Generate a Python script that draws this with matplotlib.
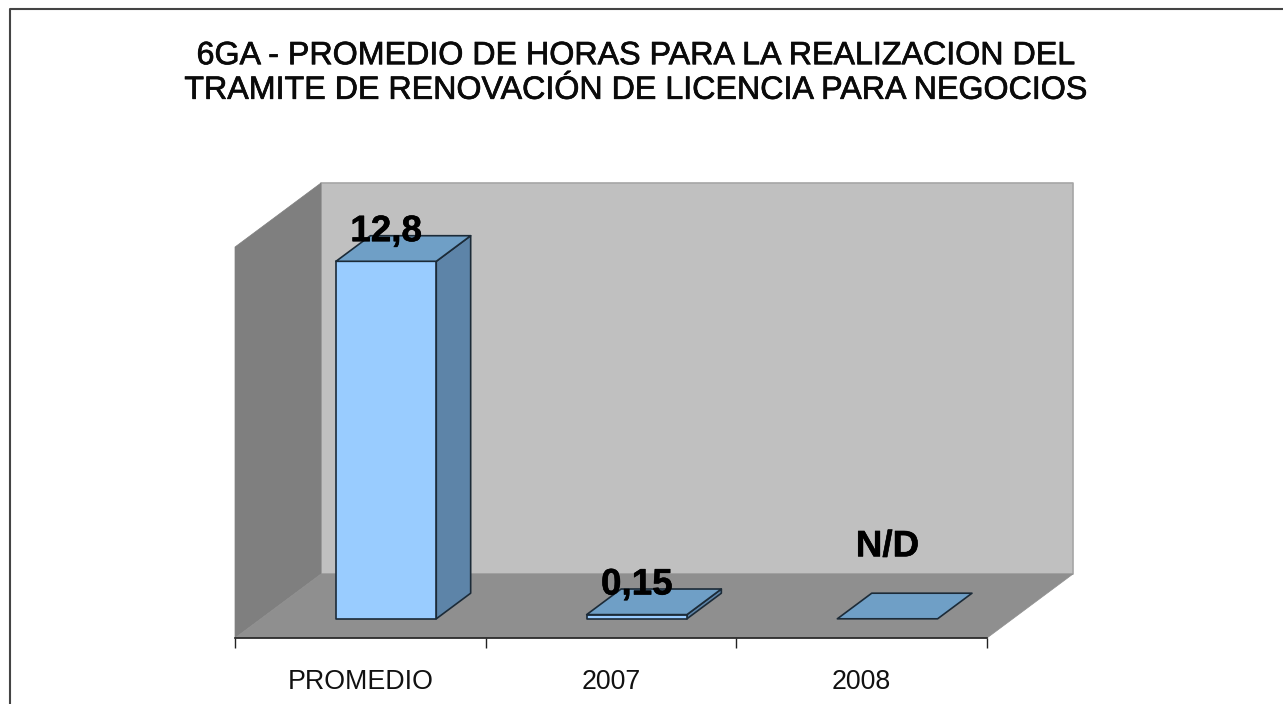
import matplotlib
matplotlib.use('Agg')
import matplotlib.pyplot as plt
import matplotlib.patheffects as pe
from matplotlib.lines import Line2D
from matplotlib.patches import Polygon

categories = ['PROMEDIO', '2007', '2008']
values = [12.8, 0.15, 0]
value_labels = ['12,8', '0,15', 'N/D']
title = '6GA - PROMEDIO DE HORAS PARA LA REALIZACION DEL\nTRAMITE DE RENOVACIÓN DE LICENCIA PARA NEGOCIOS'

W, H = 1283, 704
YMAX = 14
# how far the back of the box is shifted, in data units
DEPTH_X = 86 / (752 / 3)
DEPTH_Y = 64 / (391 / YMAX)
BAR_W = 0.4

plt.rcParams['font.family'] = ['Liberation Sans', 'DejaVu Sans']

fig = plt.figure(figsize=(W / 100, H / 100), dpi=100)
ax = fig.add_axes([235 / W, (H - 638) / H, 752 / W, 391 / H])
ax.set_xlim(0, 3)
ax.set_ylim(0, YMAX)
ax.patch.set_visible(False)


def pt(x, y, d):
    return (x + d * DEPTH_X, y + d * DEPTH_Y)


def face(points, color, edge='none', lw=0, z=1):
    ax.add_patch(Polygon(points, closed=True, facecolor=color, edgecolor=edge,
                         linewidth=lw, clip_on=False, zorder=z, joinstyle='round'))


# walls and floor
face([pt(0, 0, 1), pt(3, 0, 1), pt(3, YMAX, 1), pt(0, YMAX, 1)], '#c0c0c0', '#a6a6a6', 1.2)
face([pt(0, 0, 0), pt(0, 0, 1), pt(0, YMAX, 1), pt(0, YMAX, 0)], '#7f7f7f', '#7f7f7f', 0.5)
face([pt(0, 0, 0), pt(3, 0, 0), pt(3, 0, 1), pt(0, 0, 1)], '#8f8f8f', '#8f8f8f', 0.5, z=2)

# bars
for i, v in enumerate(values):
    x0 = i + 0.5 - BAR_W / 2
    x1 = i + 0.5 + BAR_W / 2
    d0, d1 = 0.3, 0.7
    edge = '#1c2b38'
    if v > 0:
        face([pt(x1, 0, d0), pt(x1, 0, d1), pt(x1, v, d1), pt(x1, v, d0)], '#5d84a8', edge, 1.2, z=3)
        face([pt(x0, 0, d0), pt(x1, 0, d0), pt(x1, v, d0), pt(x0, v, d0)], '#99ccff', edge, 1.2, z=3)
    face([pt(x0, v, d0), pt(x1, v, d0), pt(x1, v, d1), pt(x0, v, d1)], '#6f9fc6', edge, 1.2, z=3)

    cx, cy = pt(i + 0.5, v, d0)
    offset = 14.5 if v > 0 else 45
    ax.annotate(value_labels[i], (cx, cy), xytext=(0, offset), textcoords='offset points',
                ha='center', va='baseline', fontsize=26.5, fontweight='bold',
                color='black', zorder=5, annotation_clip=False,
                path_effects=[pe.withStroke(linewidth=0.4, foreground='black')])

# category axis
for s in ['left', 'right', 'top']:
    ax.spines[s].set_visible(False)
ax.spines['bottom'].set_color('#222222')
ax.spines['bottom'].set_linewidth(1.2)
ax.spines['bottom'].set_zorder(4)
ax.set_yticks([])
ax.set_xticks([0, 1, 2, 3])
ax.set_xticklabels([])
ax.tick_params(axis='x', length=7, width=1, color='#222222')
ax.set_xticks([0.5, 1.5, 2.5], minor=True)
ax.set_xticklabels(categories, minor=True, fontsize=19.3, color='#111111')
ax.tick_params(axis='x', which='minor', length=0, pad=22)

# title and outer frame (only left and top show in the picture)
fig.text(636 / W, 1 - 73.5 / H, title, ha='center', va='center', fontsize=23.2,
         color='#0a0a0a', linespacing=1.2,
         path_effects=[pe.withStroke(linewidth=0.5, foreground='#0a0a0a')])
fig.add_artist(Line2D([10 / W, 10 / W, 1], [0, 1 - 9 / H, 1 - 9 / H], transform=fig.transFigure,
                      color='#444444', linewidth=1.5))

fig.savefig('out.png', dpi=100)
